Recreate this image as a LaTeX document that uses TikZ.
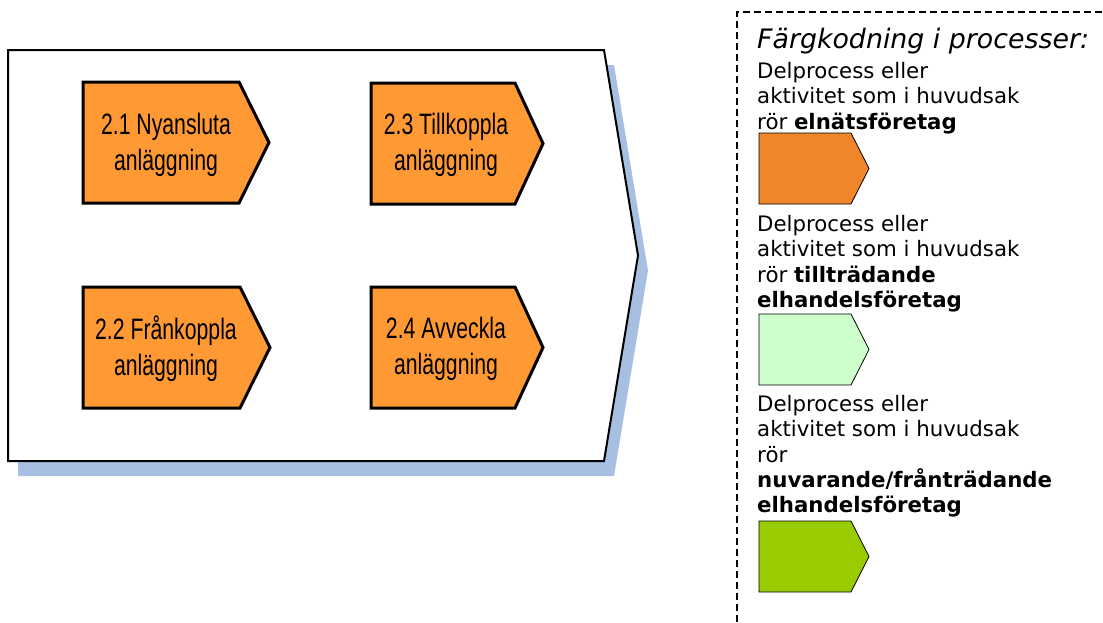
\documentclass[tikz,border=0pt]{standalone}
\usepackage{fontspec}
\usepackage{xcolor}
\usepackage{tikz}
\setmainfont{DejaVu Sans}
\newfontfamily\boxfont[FakeStretch=0.72]{Liberation Sans}
\definecolor{procfill}{HTML}{FF9933}
\definecolor{shadowblue}{HTML}{A6BFE2}
\definecolor{netorange}{HTML}{F0862A}
\definecolor{newgreen}{HTML}{CCFFCC}
\definecolor{oldgreen}{HTML}{99CC00}
\tikzset{
  frame/.style={draw=black, line width=2pt, fill=white},
  shade/.style={draw=none, fill=shadowblue},
  proc/.style={draw=black, line width=3pt, fill=procfill},
  swatch/.style={draw=black, line width=0.8pt},
  boxtext/.style={font=\boxfont\fontsize{29.5}{36}\selectfont, align=center, inner sep=0pt},
  legtitle/.style={font=\itshape\fontsize{26.8}{30}\selectfont, anchor=base west, inner sep=0pt},
  legtext/.style={font=\fontsize{21.3}{25.4}\selectfont, align=left, anchor=north west, inner sep=0pt},
  legframe/.style={draw=black, line width=1.5pt, dash pattern=on 7pt off 4pt},
}
% arrow shaped box: left, top, flat end, tip, bottom, style
\newcommand{\chev}[6]{\draw[#6] (#1,#2) -- (#3,#2) -- (#4,{(#2+#5)/2}) -- (#3,#5) -- (#1,#5) -- cycle;}

\begin{document}
\begin{tikzpicture}[x=1pt, y=-1pt]
  \useasboundingbox (0,0) rectangle (1103,622);

  % process 2
  \begin{scope}[shift={(10,15)}]
    \chev{8}{50}{604}{638}{461}{shade}
  \end{scope}
  \chev{8}{50}{604}{638}{461}{frame}

  \chev{83}{82}{239}{269}{203}{proc}
  \chev{83}{287}{240}{270}{408}{proc}
  \chev{371}{83}{515}{543}{204}{proc}
  \chev{371}{287}{515}{543}{408}{proc}

  \node[boxtext] (p21) at (166,145) {2.1 Nyansluta\\anläggning};
  \node[boxtext] (p22) at (166,349) {2.2 Frånkoppla\\anläggning};
  \node[boxtext] (p23) at (446,145) {2.3 Tillkoppla\\anläggning};
  \node[boxtext] (p24) at (446,349) {2.4 Avveckla\\anläggning};

  % legend
  \draw[legframe] (737,622) -- (737,12) -- (1103,12);
  \node[legtitle] (title) at (757,48) {Färgkodning i processer:};

  \node[legtext] (leg1) at (757,62) {Delprocess eller\\aktivitet som i huvudsak\\rör \textbf{elnätsföretag}};
  \chev{759}{133}{851}{869}{204}{swatch, fill=netorange}

  \node[legtext] (leg2) at (757,215) {Delprocess eller\\aktivitet som i huvudsak\\rör \textbf{tillträdande}\\\textbf{elhandelsföretag}};
  \chev{759}{314}{851}{869}{385}{swatch, fill=newgreen}

  \node[legtext] (leg3) at (757,395) {Delprocess eller\\aktivitet som i huvudsak\\rör\\\textbf{nuvarande/frånträdande}\\\textbf{elhandelsföretag}};
  \chev{759}{521}{851}{869}{592}{swatch, fill=oldgreen}
\end{tikzpicture}
\end{document}
